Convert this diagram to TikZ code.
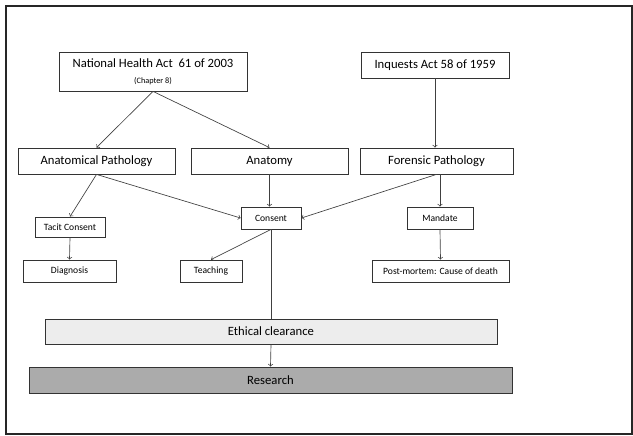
\documentclass[tikz,border=0pt]{standalone}
\usepackage{fontspec}
\setmainfont{Carlito}
\usepackage{tikz}
\usetikzlibrary{arrows}

\begin{document}
\begin{tikzpicture}[x=0.75pt,y=-0.75pt,
    box/.style={draw=black!80,line width=0.6pt,inner sep=0pt,minimum height=19.5pt,font=\fontsize{9.5}{11}\selectfont},
    smallbox/.style={box,minimum height=16.5pt,font=\fontsize{7.2}{8}\selectfont},
    link/.style={draw=black!75,line width=0.5pt,->,>=to}]

\useasboundingbox (0,0) rectangle (633,436);
\draw [black!85,line width=1.1pt] (6,6) rectangle (632,434);

% acts
\node [box,minimum width=141pt,minimum height=29.25pt,align=center] (nha) at (153,71.5)
    {National Health Act\ \ 61 of 2003\\[1pt]{\fontsize{6.2}{7}\selectfont (Chapter 8)}};
\node [box,minimum width=111pt] (inq) at (435,65) {Inquests Act 58 of 1959};

% disciplines
\node [box,minimum width=117.75pt] (ap) at (96.5,161) {Anatomical Pathology};
\node [box,minimum width=117.75pt] (anat) at (269.5,161) {Anatomy};
\node [box,minimum width=114.75pt] (fp) at (436.5,161) {Forensic Pathology};

\node [smallbox,minimum width=45pt] (cons) at (271,218) {Consent};
\node [smallbox,minimum width=49.5pt] (mand) at (440,218) {Mandate};
\node [smallbox,minimum width=52.5pt,minimum height=15pt] (tacit) at (70,227) {Tacit Consent};

\node [smallbox,minimum width=69.75pt] (diag) at (69.5,271) {Diagnosis};
\node [smallbox,minimum width=46.5pt] (teach) at (211,271) {Teaching};
\node [smallbox,minimum width=102.75pt] (pm) at (440.5,271) {Post-mortem: Cause of death};

\node [box,fill=black!7,minimum width=339pt,minimum height=18.75pt] (eth) at (271,331.5) {Ethical clearance};
\node [box,fill=black!33,minimum width=362.25pt] (res) at (270.5,380) {Research};

\foreach \a/\b in {nha/ap,nha/anat,ap/tacit,tacit/diag,cons/teach,mand/pm,eth/res}
    \draw [link] (\a.south) -- (\b.north);

\draw [link] (inq.south) -- (inq.south |- fp.north);
\draw [link] (anat.south) -- (anat.south |- cons.north);
\draw [link] (mand.north |- fp.south) -- (mand.north);
\draw [link] (ap.south) -- (cons.west);
\draw [link] (fp.south) -- (cons.east);
\draw [draw=black!75,line width=0.5pt] (cons.south) -- (eth.north);

\end{tikzpicture}
\end{document}
